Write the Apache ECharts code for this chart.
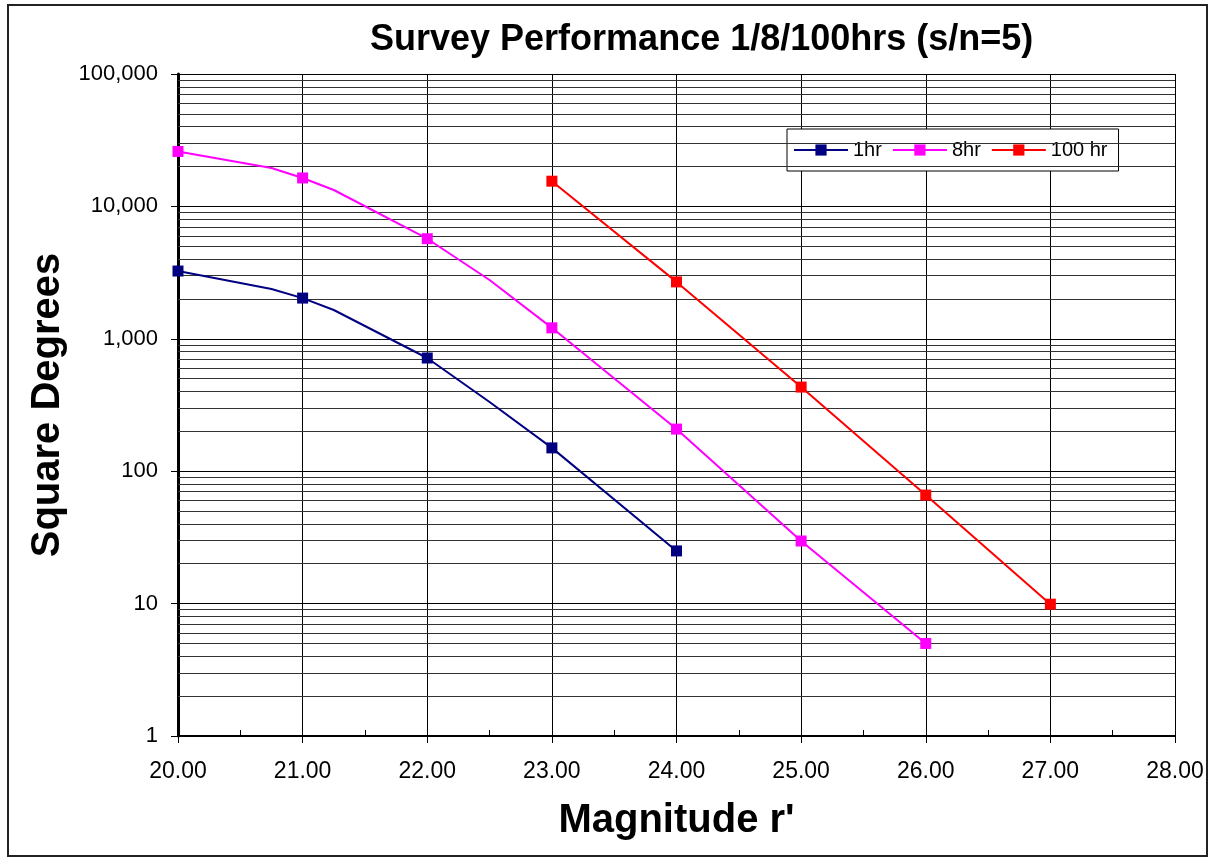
<!DOCTYPE html>
<html>
<head>
<meta charset="utf-8">
<title>Survey Performance</title>
<script src="https://cdn.jsdelivr.net/npm/echarts@6/dist/echarts.min.js"></script>
<style>
  html, body { margin: 0; padding: 0; background: #fff; }
  #chart { width: 1220px; height: 858px; }
</style>
</head>
<body>
<div id="chart"></div>
<script>
// data (magnitude r', square degrees); marker = 0 means a bend point without a square
var mag1hr = [20, 20.75, 21, 21.25, 22, 22.5, 23, 24];
var area1hr = [3250, 2380, 2030, 1650, 716, 333, 150, 25];
var mark1hr = [1, 0, 1, 0, 1, 0, 1, 1];

var mag8hr = [20, 20.75, 21, 21.25, 22, 22.5, 23, 24, 25, 26];
var area8hr = [26000, 19500, 16400, 13300, 5700, 2780, 1210, 208, 29.7, 5.0];
var mark8hr = [1, 0, 1, 0, 1, 0, 1, 1, 1, 1];

var mag100hr = [23, 24, 25, 26, 27];
var area100hr = [15500, 2690, 432, 66, 9.9];
var mark100hr = [1, 1, 1, 1, 1];

var seriesNames = ['1hr', '8hr', '100 hr'];
var seriesColors = ['#000080', '#FF00FF', '#FF0000'];

// minor log grid lines 2..9 in every decade
var decades = [1, 10, 100, 1000, 10000];
var minorSteps = [2, 3, 4, 5, 6, 7, 8, 9];

var font = 'Liberation Sans, Arial, sans-serif';

function toPoints(xs, ys, marks) {
  var out = [];
  for (var i = 0; i < xs.length; i++) {
    var p = { value: [xs[i], ys[i]] };
    if (!marks[i]) p.symbol = 'none';
    out.push(p);
  }
  return out;
}

var minorLines = [];
for (var d = 0; d < decades.length; d++) {
  for (var m = 0; m < minorSteps.length; m++) {
    minorLines.push({ yAxis: decades[d] * minorSteps[m] });
  }
}

function lineSeries(idx, data) {
  return {
    name: seriesNames[idx],
    type: 'line',
    data: data,
    symbol: 'rect',
    symbolSize: 11,
    smooth: false,
    color: seriesColors[idx],
    lineStyle: { width: 2, color: seriesColors[idx] },
    itemStyle: { color: seriesColors[idx] },
    z: 5,
    animation: false
  };
}

var myChart = echarts.init(document.getElementById('chart'), null, { renderer: 'canvas' });

var option = {
  backgroundColor: '#fff',
  animation: false,
  textStyle: { fontFamily: font },
  title: {
    text: 'Survey Performance 1/8/100hrs (s/n=5)',
    left: 365,
    top: 17,
    textStyle: { fontFamily: font, fontSize: 36, fontWeight: 'bold', color: '#000' }
  },
  legend: {
    data: seriesNames,
    left: 787,
    top: 129,
    orient: 'horizontal',
    itemWidth: 54,
    itemHeight: 14,
    itemGap: 10,
    padding: [11, 11, 11, 6],
    backgroundColor: '#fff',
    borderColor: '#000',
    borderWidth: 1,
    borderRadius: 0,
    textStyle: { fontFamily: font, fontSize: 20, color: '#000' }
  },
  grid: { left: 178, right: 45, top: 74, bottom: 122, containLabel: false },
  xAxis: [{
    type: 'value',
    min: 20,
    max: 28,
    interval: 1,
    name: "Magnitude r'",
    nameLocation: 'middle',
    nameGap: 65,
    nameTextStyle: { fontFamily: font, fontSize: 40, fontWeight: 'bold', color: '#000' },
    axisLine: { show: true, onZero: false, lineStyle: { color: '#000', width: 2 } },
    axisTick: { show: true, inside: false, length: 7, lineStyle: { color: '#000' } },
    axisLabel: {
      margin: 24,
      fontFamily: font,
      fontSize: 23,
      color: '#000',
      formatter: function (v) { return v.toFixed(2); }
    },
    splitLine: { show: true, lineStyle: { color: '#000', width: 1 } }
  }, {
    type: 'value',
    min: 20,
    max: 28,
    interval: 0.5,
    position: 'bottom',
    axisLine: { show: false },
    axisTick: { show: true, inside: true, length: 6, lineStyle: { color: '#000' } },
    axisLabel: { show: false },
    splitLine: { show: false }
  }],
  yAxis: {
    type: 'log',
    logBase: 10,
    min: 1,
    max: 100000,
    name: 'Square Degrees',
    nameLocation: 'middle',
    nameGap: 104,
    nameTextStyle: { fontFamily: font, fontSize: 40, fontWeight: 'bold', color: '#000' },
    axisLine: { show: true, lineStyle: { color: '#000', width: 3 } },
    axisTick: { show: true, inside: false, length: 7, lineStyle: { color: '#000' } },
    axisLabel: {
      margin: 20,
      fontFamily: font,
      fontSize: 22,
      color: '#000',
      formatter: function (v) { return Math.round(v).toLocaleString('en-US'); }
    },
    splitLine: { show: true, lineStyle: { color: '#000', width: 1 } }
  },
  graphic: [{
    type: 'rect',
    shape: { x: 8, y: 5, width: 1199, height: 851 },
    style: { fill: null, stroke: '#222', lineWidth: 2 },
    silent: true
  }],
  series: [
    lineSeries(0, toPoints(mag1hr, area1hr, mark1hr)),
    lineSeries(1, toPoints(mag8hr, area8hr, mark8hr)),
    lineSeries(2, toPoints(mag100hr, area100hr, mark100hr)),
    {
      name: 'minorGrid',
      type: 'line',
      data: [],
      silent: true,
      z: 1,
      markLine: {
        silent: true,
        symbol: ['none', 'none'],
        label: { show: false },
        lineStyle: { color: '#333', width: 1, type: 'solid' },
        data: minorLines,
        animation: false
      }
    }
  ]
};

myChart.setOption(option, true);
</script>
</body>
</html>
